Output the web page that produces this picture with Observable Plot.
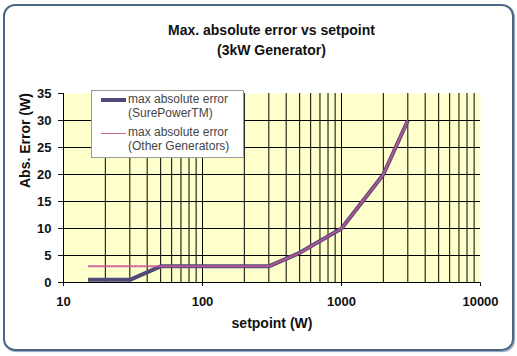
<!DOCTYPE html>
<html><head><meta charset="utf-8">
<script src="https://cdn.jsdelivr.net/npm/d3@7"></script>
<script src="https://cdn.jsdelivr.net/npm/@observablehq/plot@0.6"></script>
<style>
body{margin:0;background:#fff;font-family:Arial,"Liberation Sans",sans-serif;}
#wrap{position:relative;width:517px;height:356px;overflow:hidden;background:#fff;}
#frame{position:absolute;left:3px;top:4px;width:507px;height:343px;border:2px solid #4b6584;border-radius:12px;box-shadow:1px 1px 1px #8fa3b8;}
#title{position:absolute;left:63px;width:417px;top:20px;text-align:center;font-weight:bold;font-size:14px;line-height:20px;color:#111;}
#chart{position:absolute;left:0;top:80px;}
#legend{position:absolute;left:91px;top:90px;width:153px;height:68px;background:#fff;border:1px solid #9a9a9a;box-sizing:border-box;}
.lt{position:absolute;left:36px;font-size:12px;line-height:14px;color:#444;white-space:nowrap;}
.sw{position:absolute;left:9px;width:25px;}
</style>
</head><body>
<div id="wrap">
  <div id="frame"></div>
  <div id="title">Max. absolute error vs setpoint<br>(3kW Generator)</div>
  <div id="chart"></div>
  <div id="legend">
    <div class="sw" style="top:7px;height:4px;background:#4f4a78;"></div>
    <div class="lt" style="top:1px;">max absolute error<br>(SurePowerTM)</div>
    <div class="sw" style="top:42px;height:1px;background:#cc6699;"></div>
    <div class="lt" style="top:34px;">max absolute error<br>(Other Generators)</div>
  </div>
</div>
<script>
const setpoint = [15, 30, 50, 300, 500, 1000, 2000, 3000];
const surePower = [0.5, 0.5, 3, 3, 5.5, 10, 20, 30];
const otherGenerators = [3, 3, 3, 3, 5.5, 10, 20, 30];
const xTicks = [10, 100, 1000, 10000];
const yTicks = [0, 5, 10, 15, 20, 25, 30, 35];
const xGrid = [20, 30, 40, 50, 60, 70, 80, 90, 100, 200, 300, 400, 500, 600, 700, 800, 900, 1000, 2000, 3000, 4000, 5000, 6000, 7000, 8000, 9000];
const yGrid = [5, 10, 15, 20, 25, 30];

const sure = setpoint.map((x, i) => ({x, y: surePower[i]}));
const other = setpoint.map((x, i) => ({x, y: otherGenerators[i]}));

const chart = Plot.plot({
  width: 517, height: 260,
  marginLeft: 63, marginRight: 37, marginTop: 13, marginBottom: 58,
  x: {type: "log", domain: [10, 10000], ticks: xTicks, tickSize: 4, tickPadding: 10, tickFormat: d => String(d), label: null},
  y: {domain: [0, 35], ticks: yTicks, tickSize: 5, tickPadding: 7, label: null},
  style: {fontFamily: "Arial, 'Liberation Sans', sans-serif", fontSize: "13px", fontWeight: "bold", background: "transparent", color: "#111"},
  marks: [
    Plot.frame({fill: "#ffffcc", stroke: null}),
    Plot.ruleX(xGrid, {stroke: "#000", strokeWidth: 1}),
    Plot.ruleY(yGrid, {stroke: "#000", strokeWidth: 1}),
    Plot.ruleX([10], {stroke: "#000", strokeWidth: 1}),
    Plot.ruleY([0], {stroke: "#000", strokeWidth: 1}),
    Plot.line(sure, {x: "x", y: "y", stroke: "#4f4a78", strokeWidth: 4, strokeLinecap: "butt", strokeLinejoin: "round"}),
    Plot.line(other, {x: "x", y: "y", stroke: "#c8559a", strokeWidth: 2, strokeOpacity: 0.85, strokeLinecap: "butt"}),
    Plot.text(["setpoint (W)"], {frameAnchor: "bottom", dy: 45, text: d => d, fontSize: 14, fontWeight: "bold", fill: "#111"}),
    Plot.text(["Abs. Error (W)"], {frameAnchor: "left", dx: -38, rotate: -90, text: d => d, fontSize: 14, fontWeight: "bold", fill: "#111"})
  ]
});
document.getElementById("chart").appendChild(chart);
</script>
</body></html>
